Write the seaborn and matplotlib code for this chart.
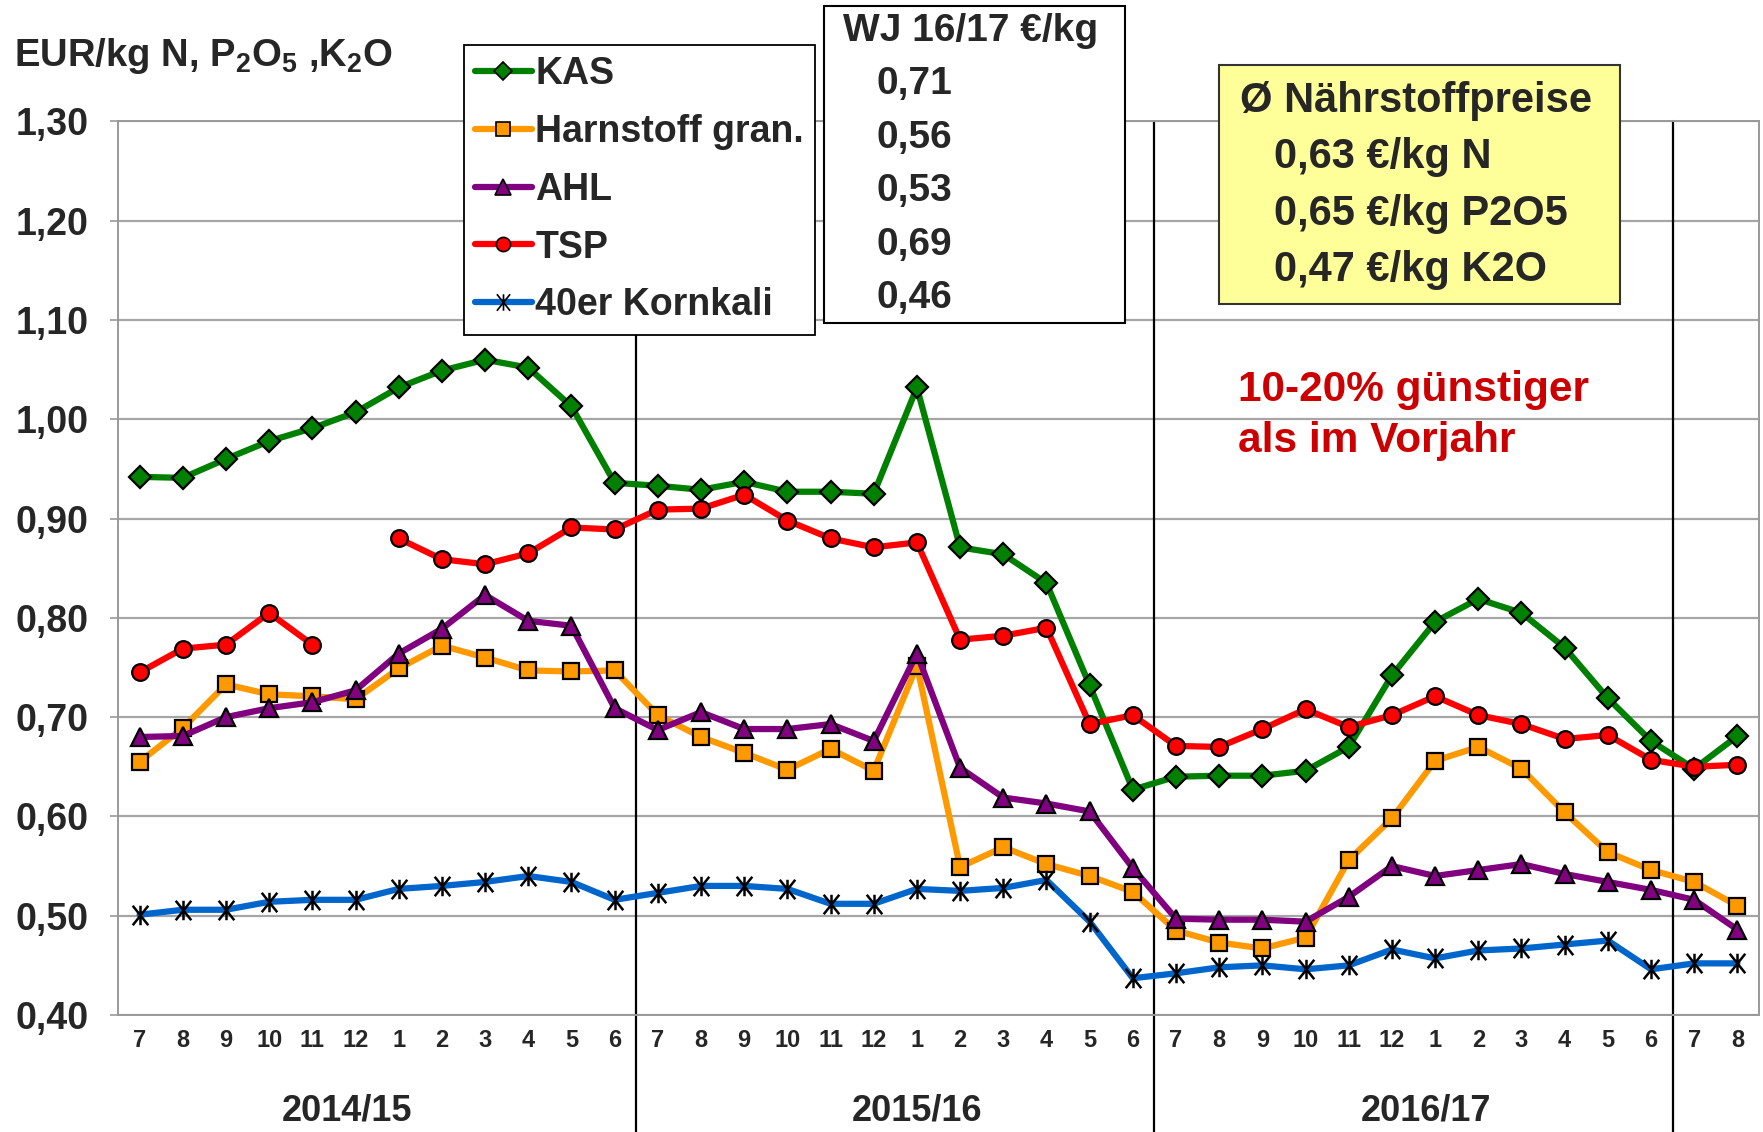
import numpy as np
import pandas as pd
import matplotlib
matplotlib.use('Agg')
import matplotlib.pyplot as plt
import matplotlib.transforms as mtransforms
import seaborn as sns
from matplotlib.lines import Line2D
from matplotlib.patches import Rectangle
from matplotlib.path import Path
from matplotlib.ticker import MultipleLocator, FuncFormatter


# monthly prices EUR per kg nutrient, July 2014 .. August 2017
months = [7, 8, 9, 10, 11, 12, 1, 2, 3, 4, 5, 6,
          7, 8, 9, 10, 11, 12, 1, 2, 3, 4, 5, 6,
          7, 8, 9, 10, 11, 12, 1, 2, 3, 4, 5, 6,
          7, 8]
years = ['2014/15', '2015/16', '2016/17']

kas = [0.942, 0.941, 0.960, 0.978, 0.991, 1.007, 1.032, 1.049, 1.060, 1.052, 1.013, 0.936,
       0.933, 0.929, 0.937, 0.927, 0.927, 0.925, 1.032, 0.871, 0.864, 0.835, 0.732, 0.627,
       0.640, 0.641, 0.641, 0.646, 0.670, 0.742, 0.796, 0.819, 0.805, 0.770, 0.719, 0.676,
       0.648, 0.681]
harnstoff = [0.655, 0.689, 0.733, 0.723, 0.721, 0.718, 0.749, 0.772, 0.760, 0.747, 0.746, 0.747,
             0.702, 0.680, 0.664, 0.647, 0.668, 0.646, 0.752, 0.549, 0.569, 0.552, 0.540, 0.524,
             0.485, 0.473, 0.467, 0.478, 0.556, 0.598, 0.656, 0.670, 0.648, 0.604, 0.564, 0.546,
             0.534, 0.510]
ahl = [0.680, 0.681, 0.700, 0.709, 0.715, 0.727, 0.764, 0.789, 0.823, 0.797, 0.792, 0.709,
       0.687, 0.705, 0.688, 0.688, 0.693, 0.676, 0.764, 0.649, 0.619, 0.613, 0.605, 0.548,
       0.497, 0.496, 0.496, 0.494, 0.519, 0.550, 0.540, 0.546, 0.552, 0.542, 0.534, 0.526,
       0.516, 0.486]
tsp = [0.745, 0.769, 0.773, 0.805, 0.773, np.nan, 0.880, 0.859, 0.854, 0.865, 0.891, 0.889,
       0.909, 0.910, 0.924, 0.898, 0.880, 0.871, 0.876, 0.778, 0.782, 0.790, 0.693, 0.702,
       0.671, 0.670, 0.688, 0.708, 0.690, 0.702, 0.721, 0.702, 0.693, 0.678, 0.682, 0.657,
       0.650, 0.652]
kornkali = [0.501, 0.506, 0.506, 0.514, 0.516, 0.516, 0.527, 0.530, 0.534, 0.540, 0.534, 0.516,
            0.523, 0.530, 0.530, 0.527, 0.512, 0.512, 0.527, 0.525, 0.528, 0.536, 0.494, 0.437,
            0.442, 0.448, 0.450, 0.446, 0.450, 0.466, 0.457, 0.465, 0.467, 0.471, 0.475, 0.446,
            0.452, 0.452]

names = ['KAS', 'Harnstoff gran.', 'AHL', 'TSP', '40er Kornkali']
wj_values = ['0,71', '0,56', '0,53', '0,69', '0,46']
avg_lines = ['0,63 €/kg N', '0,65 €/kg P2O5', '0,47 €/kg K2O']

# excel style star: an X with a vertical bar through it
star = Path([(-0.8, -1), (0.8, 1), (-0.8, 1), (0.8, -1), (0, -1), (0, 1)],
            [Path.MOVETO, Path.LINETO, Path.MOVETO, Path.LINETO, Path.MOVETO, Path.LINETO])

colors = ['#008000', '#FF9900', '#800080', '#FF0000', '#0066CC']
markers = ['D', 's', '^', 'o', star]
msizes = [11, 11.5, 13, 12, 14]
filled_flags = [True, True, True, True, False]

# long table, segment id so the gap in TSP stays a gap
frames = []
for name, vals in zip(names, [kas, harnstoff, ahl, tsp, kornkali]):
    v = pd.Series(vals, dtype=float)
    frames.append(pd.DataFrame({'x': range(len(v)), 'value': v, 'product': name,
                                'seg': v.isna().cumsum()}))
df = pd.concat(frames, ignore_index=True).dropna()

sns.set_style('white')
plt.rcParams['font.family'] = ['Liberation Sans', 'DejaVu Sans']
plt.rcParams['font.weight'] = 'bold'
plt.rcParams['mathtext.fontset'] = 'custom'
plt.rcParams['mathtext.rm'] = 'Liberation Sans:bold'
plt.rcParams['mathtext.it'] = 'Liberation Sans:bold'
plt.rcParams['mathtext.bf'] = 'Liberation Sans:bold'

W, H = 1763, 1132
fig = plt.figure(figsize=(W / 100, H / 100), dpi=100)
ax = fig.add_axes([118 / W, 1 - 1015 / H, (1759 - 118) / W, (1015 - 121.4) / H])


def fx(px):
    return px / W


def fy(py):
    return 1 - py / H


for i, name in enumerate(names):
    sub = df[df['product'] == name]
    filled = filled_flags[i]
    sns.lineplot(data=sub, x='x', y='value', units='seg', estimator=None, ax=ax,
                 color=colors[i], lw=4.5, marker=markers[i], markersize=msizes[i],
                 markerfacecolor=colors[i] if filled else 'none',
                 markeredgecolor='black', markeredgewidth=1.6 if filled else 1.8,
                 zorder=3 + i, legend=False)

ax.set_xlim(-0.5, 37.5)
ax.set_ylim(0.40, 1.30)
ax.set_xlabel('')
ax.set_ylabel('')

ax.yaxis.set_major_locator(MultipleLocator(0.1))
ax.yaxis.set_major_formatter(FuncFormatter(lambda v, p: f'{v:.2f}'.replace('.', ',')))
ax.set_xticks(range(len(months)))
ax.set_xticklabels([str(m) for m in months])
ax.set_xticks(np.arange(-0.5, len(months), 1), minor=True)

ax.tick_params(axis='x', which='major', length=0, pad=10, labelsize=17)
ax.tick_params(axis='x', which='minor', length=7, width=1.2, color='#999999', direction='out')
ax.tick_params(axis='y', which='major', length=6, width=1.2, color='#999999',
               direction='out', pad=15, labelsize=27)
ax.tick_params(left=True, bottom=True)
for lab in ax.get_xticklabels() + ax.get_yticklabels():
    lab.set_fontweight('bold')

ax.yaxis.grid(True, color='#a6a6a6', lw=1.6)
ax.set_axisbelow(True)
for s in ax.spines.values():
    s.set_color('#999999')
    s.set_linewidth(1.4)

# year separators, run down past the axis
for xv in [11.5, 23.5, 35.5]:
    ax.axvline(xv, ymin=-0.131, ymax=1, color='black', lw=1.6, clip_on=False, zorder=2)

trans = mtransforms.blended_transform_factory(ax.transData, ax.transAxes)
for xpos, yr in zip([4.8, 18.0, 29.8], years):
    ax.text(xpos, -0.107, yr, transform=trans, ha='center', va='center',
            fontsize=26, fontweight='bold', clip_on=False)

fig.text(fx(14), fy(56), r'EUR/kg N, P$_{2}$O$_{5}$ ,K$_{2}$O', fontsize=27.5,
         fontweight='bold', ha='left', va='center')

# legend
handles = []
for i, name in enumerate(names):
    filled = filled_flags[i]
    handles.append(Line2D([0], [0], color=colors[i], lw=4.5, marker=markers[i],
                          markersize=msizes[i] * 0.85,
                          markerfacecolor=colors[i] if filled else 'none',
                          markeredgecolor='black', markeredgewidth=1.2))
leg = fig.legend(handles, names, loc='upper left', bbox_to_anchor=(fx(464), fy(45)),
                 bbox_transform=fig.transFigure, frameon=True, fancybox=False,
                 edgecolor='black', framealpha=1, borderaxespad=0,
                 prop={'size': 27, 'weight': 'bold'}, handlelength=1.5,
                 handletextpad=0.1, labelspacing=0.58, borderpad=0.3)
leg.get_frame().set_linewidth(1.3)
leg.set_zorder(10)

# table box with WJ 16/17 values
fig.add_artist(Rectangle((fx(824), fy(323)), (1125 - 824) / W, (323 - 5.6) / H,
                         transform=fig.transFigure, facecolor='white',
                         edgecolor='black', lw=1.5, zorder=10))
fig.text(fx(843), fy(31), 'WJ 16/17 €/kg', fontsize=28, fontweight='bold',
         color='#262626', ha='left', va='center', zorder=11)
for yy, val in zip([84, 138, 191, 245, 298], wj_values):
    fig.text(fx(877), fy(yy), val, fontsize=28, fontweight='bold', color='#262626',
             ha='left', va='center', zorder=11)

# yellow box with average nutrient prices
fig.add_artist(Rectangle((fx(1219), fy(304)), (1620 - 1219) / W, (304 - 65) / H,
                         transform=fig.transFigure, facecolor='#FFFF99',
                         edgecolor='#333333', lw=1.5, zorder=10))
fig.text(fx(1240), fy(101), 'Ø Nährstoffpreise', fontsize=30, fontweight='bold',
         color='#262626', ha='left', va='center', zorder=11)
for yy, txt in zip([157, 214, 270], avg_lines):
    fig.text(fx(1274), fy(yy), txt, fontsize=30, fontweight='bold', color='#262626',
             ha='left', va='center', zorder=11)

fig.text(fx(1238), fy(390), '10-20% günstiger', fontsize=30.5, fontweight='bold',
         color='#CC0000', ha='left', va='center', zorder=11)
fig.text(fx(1238), fy(441), 'als im Vorjahr', fontsize=30.5, fontweight='bold',
         color='#CC0000', ha='left', va='center', zorder=11)

fig.savefig('out.png', dpi=100, facecolor='white')
